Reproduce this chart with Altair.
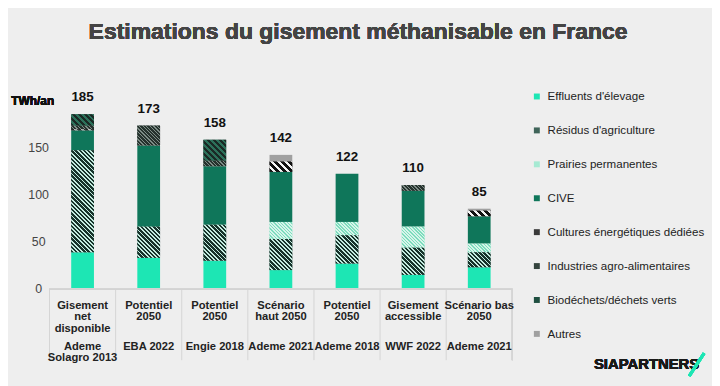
import math
import altair as alt
import pandas as pd

# ---------------- data ----------------
cat_lines = ["Gisement\nnet\ndisponible", "Potentiel\n2050", "Potentiel\n2050", "Scénario\nhaut 2050",
             "Potentiel\n2050", "Gisement\naccessible", "Scénario bas\n2050"]
src_lines = ["Ademe\nSolagro 2013", "EBA 2022", "Engie 2018", "Ademe 2021", "Ademe 2018", "WWF 2022", "Ademe 2021"]
totals = [185, 173, 158, 142, 122, 110, 85]

categories = ["Effluents d'élevage", "Résidus d'agriculture", "Prairies permanentes", "CIVE",
              "Cultures énergétiques dédiées", "Industries agro-alimentaires",
              "Biodéchets/déchets verts", "Autres"]
effluents = [39, 33, 30, 20, 27, 15, 23]
residus = [108, 33, 38, 33, 30, 29, 16]
prairies = [0, 0, 0, 18, 14, 22, 9]
cive = [21, 86, 62, 53, 51, 38, 29]
cultures = [1, 0, 0, 11, 0, 0, 6]
industries = [4, 21, 6, 0, 0, 6, 0]
biodechets = [12, 0, 22, 0, 0, 0, 0]
autres = [0, 0, 0, 7, 0, 0, 2]
series = [effluents, residus, prairies, cive, cultures, industries, biodechets, autres]

# ---------------- styling ----------------
FONT = "Liberation Sans"
colors = ["#1de6b4", "#3f6459", "#a6ead3", "#0f765a", "#3a3a3a", "#34433d", "#1f4f40", "#a0a0a0"]
# pattern definitions: (period px, dark fraction, dark colour, light colour)
patterns = {
    "Résidus d'agriculture": (3.0, 0.58, "#17332b", "#c4ece0"),
    "Prairies permanentes": (2.4, 0.45, "#7ddcbd", "#d6f5ea"),
    "Cultures énergétiques dédiées": (5.0, 0.5, "#111111", "#f4f4f4"),
    "Industries agro-alimentaires": (2.6, 0.65, "#25322d", "#7d8c86"),
    "Biodéchets/déchets verts": (4.2, 0.5, "#1a2a25", "#2c715a"),
}

keys = [f"{c.replace(chr(10), ' ')} – {s.replace(chr(10), ' ')}" for c, s in zip(cat_lines, src_lines)]

rows = []
for ci, (cat, vals) in enumerate(zip(categories, series)):
    for k, v in zip(keys, vals):
        rows.append({"key": k, "cat": cat, "value": v, "order": ci})
df = pd.DataFrame(rows)
lab = pd.DataFrame({"key": keys, "cat_line": cat_lines, "src_line": src_lines, "total": totals})

W, H = 468, 191
YMAX = 200
PX = H / YMAX
BAR_W = 23

xenc = alt.X("key:N", sort=keys, axis=None, scale=alt.Scale(paddingInner=0, paddingOuter=0))
yenc = alt.Y("v0:Q", scale=alt.Scale(domain=[0, YMAX]),
             axis=alt.Axis(values=[0, 50, 100, 150], grid=False, domain=False, ticks=False,
                           labelAlign="center", labelPadding=11.5, labelFontSize=12.5,
                           labelColor="#444", labelFont=FONT, title=None))


def stacked():
    return alt.Chart(df).transform_stack(
        stack="value", groupby=["key"], as_=["v0", "v1"], sort=[alt.SortField("order", "ascending")])


def hatch(h, period, frac, c1, c2):
    w = BAR_W
    s = (w + h) * w * h / (w * w + h * h)
    pt = math.sqrt(2) * period / (w + h)
    stops = []
    t = 0.0
    while t < 1.0:
        a = min(t + frac * pt, 1.0)
        b = min(t + pt, 1.0)
        stops += [alt.GradientStop(offset=t, color=c1), alt.GradientStop(offset=a, color=c1),
                  alt.GradientStop(offset=a, color=c2), alt.GradientStop(offset=b, color=c2)]
        t += pt
    return alt.LinearGradient(gradient="linear", stops=stops, x1=0, y1=1, x2=s / h, y2=1 - s / w)


base = stacked().mark_bar(size=BAR_W).encode(
    x=xenc, y=yenc, y2="v1:Q",
    color=alt.Color("cat:N", sort=categories,
                    scale=alt.Scale(domain=categories, range=colors),
                    legend=alt.Legend(orient="none", legendX=487, legendY=-9.5, title=None,
                                      symbolType="square", symbolSize=36, symbolStrokeWidth=0,
                                      labelFontSize=11.7, labelColor="#222", labelFont=FONT,
                                      rowPadding=21.3, labelOffset=5, padding=0, labelLimit=250)))

layers = [base]
for cat, vals in zip(categories, series):
    if cat not in patterns:
        continue
    period, frac, c1, c2 = patterns[cat]
    for k, v in zip(keys, vals):
        if v <= 0:
            continue
        grad = hatch(v * PX, period, frac, c1, c2)
        layers.append(
            stacked().transform_filter((alt.datum.key == k) & (alt.datum.cat == cat))
            .mark_bar(size=BAR_W, color=grad).encode(x=xenc, y=yenc, y2="v1:Q"))

total_text = alt.Chart(lab).mark_text(font=FONT, fontSize=13.5, fontWeight="bold", color="#111",
                                      dy=-17).encode(
    x=alt.X("key:N", sort=keys), y=alt.Y("total:Q"), text="total:Q")

cat_text = alt.Chart(lab).mark_text(font=FONT, fontSize=11.3, fontWeight="bold", color="#222",
                                    baseline="top", lineBreak="\n", lineHeight=11.7).encode(
    x=alt.X("key:N", sort=keys), y=alt.value(202), text="cat_line:N")

src_text = alt.Chart(lab).mark_text(font=FONT, fontSize=11.3, fontWeight="bold", color="#222",
                                    baseline="top", lineBreak="\n", lineHeight=11.7).encode(
    x=alt.X("key:N", sort=keys), y=alt.value(243.5), text="src_line:N")

sep = alt.Chart(lab).mark_rule(color="#d4d4d4", strokeWidth=1).encode(
    x=alt.X("key:N", sort=keys, bandPosition=0), y=alt.value(191), y2=alt.value(263))
sep_end = alt.Chart(lab).mark_rule(color="#d4d4d4", strokeWidth=1).encode(
    x=alt.value(W), y=alt.value(191), y2=alt.value(263))
hline = alt.Chart(lab).mark_rule(color="#d4d4d4", strokeWidth=1).encode(
    x=alt.value(0), x2=alt.value(W), y=alt.value(191))

title = alt.Chart(lab).mark_text(font=FONT, fontSize=23.2, fontWeight="bold", color="#444").encode(
    x=alt.value(312), y=alt.value(-69), text=alt.value("Estimations du gisement méthanisable en France"))
unit = alt.Chart(lab).mark_text(font=FONT, fontSize=12, fontWeight="bold", color="#111").encode(
    x=alt.value(-17), y=alt.value(0.5), text=alt.value("TWh/an"))
logo = alt.Chart(lab).mark_text(font=FONT, fontSize=15, fontWeight="bold", color="#1a1a1a",
                                align="right").encode(
    x=alt.value(657), y=alt.value(267), text=alt.value("SIAPARTNERS"))
slash = alt.Chart(lab).mark_rule(color="#1de6b4", strokeWidth=3).encode(
    x=alt.value(647), x2=alt.value(662), y=alt.value(279), y2=alt.value(256))

chart = alt.layer(*layers, sep, sep_end, hline, total_text, cat_text, src_text, title, unit, logo, slash).properties(
    width=W, height=H,
    autosize=alt.AutoSizeParams(type="none"),
    padding={"left": 42, "top": 91, "right": 202, "bottom": 96},
).configure(background="#eeeeee").configure_view(stroke=None)

chart.save("out.html", embed_options={"renderer": "svg", "actions": False})
